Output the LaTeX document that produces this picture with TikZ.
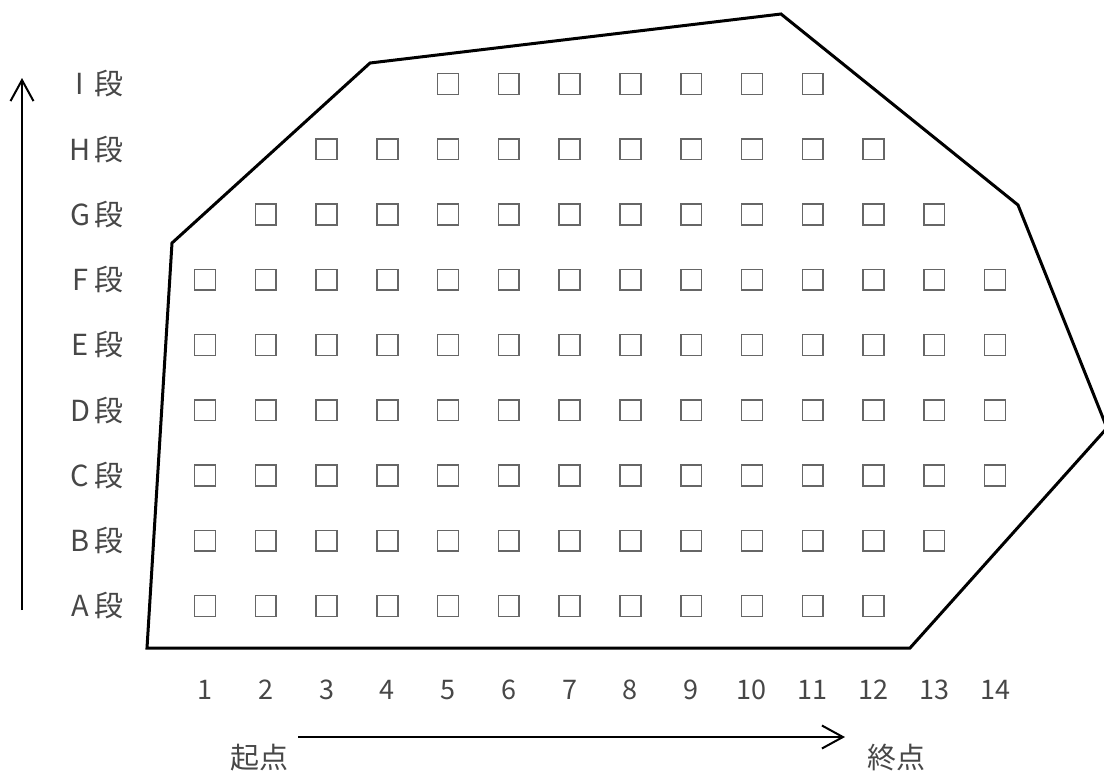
\documentclass[tikz,border=0pt]{standalone}
\usepackage{fontspec}
\setmainfont{Noto Sans CJK JP}
\usetikzlibrary{arrows.meta}

\tikzset{
  seat/.style={draw=black!60, line width=0.8pt, minimum size=10.4pt, inner sep=0pt},
  rowlabel/.style={anchor=east, inner sep=0pt, text=black!72, font=\fontsize{14.5}{16}\selectfont},
  collabel/.style={inner sep=0pt, text=black!72, font=\fontsize{13.5}{15}\selectfont},
  endlabel/.style={inner sep=0pt, text=black!72, font=\fontsize{14.5}{16}\selectfont},
  axis/.style={line width=1pt, -{Straight Barb[length=10.5pt,width=11.5pt]}},
}

\begin{document}
\begin{tikzpicture}[x=0.5pt,y=-0.5pt]
\useasboundingbox (0,0) rectangle (1104,773);

% outline of the field
\draw[line width=1.5pt, line join=miter]
  (147,648) -- (172,243) -- (370,63) -- (781,14) -- (1018,205)
  -- (1107,428) -- (910,648) -- cycle;

% rows A..I with their first and last column
\foreach \r/\first/\last [count=\i from 0] in
    {A/1/12, B/1/13, C/1/14, D/1/14, E/1/14,
     F/1/14, G/2/13, H/3/12, I/5/11} {
  \node[rowlabel] (lab-\r) at (124,{606-65.25*\i}) {\makebox[14.5pt]{\r}段};
  \foreach \c in {\first,...,\last}
    \node[seat] (s-\r-\c) at ({205+60.77*(\c-1)},{606-65.25*\i}) {};
}

% column numbers
\foreach \c in {1,...,14}
  \node[collabel] (n-\c) at ({205+60.77*(\c-1)},690) {\c};

% direction arrows
\coordinate (up0) at (22,610);
\coordinate (up1) at (22,78);
\draw[axis] (up0) -- (up1);

\coordinate (go0) at (298,737);
\coordinate (go1) at (845,737);
\draw[axis] (go0) -- (go1);

\node[endlabel] (start) at (259,758) {起点};
\node[endlabel] (goal) at (896,758) {終点};
\end{tikzpicture}
\end{document}
